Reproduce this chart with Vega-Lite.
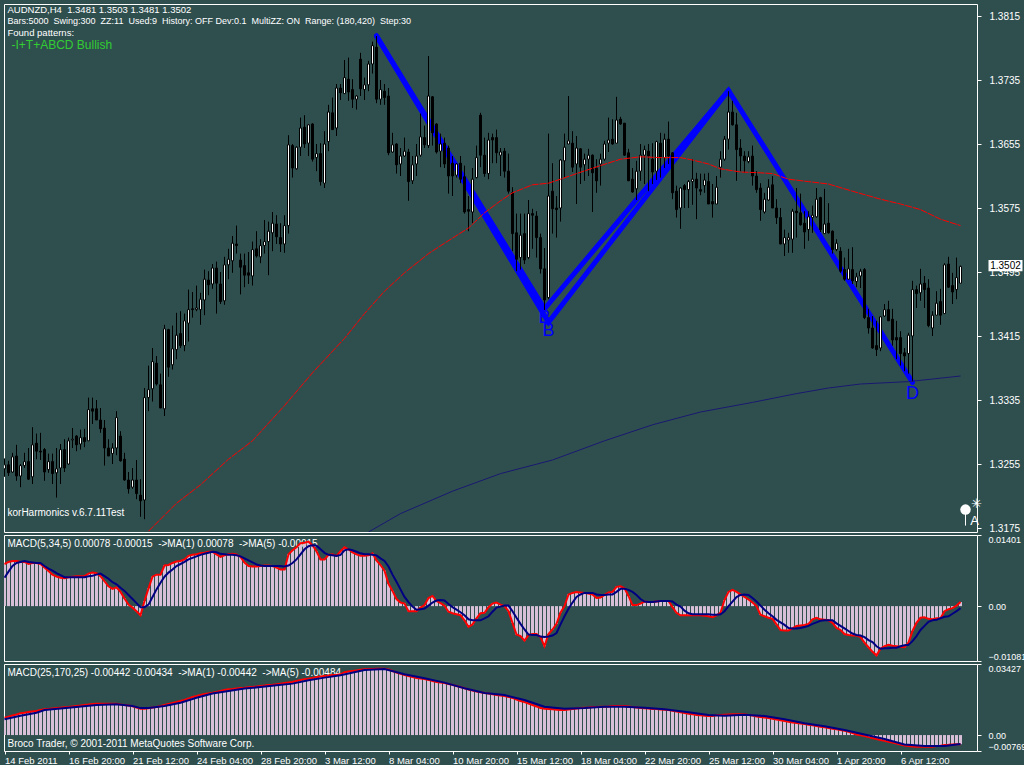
{"$schema":"https://vega.github.io/schema/vega-lite/v6.json","background":"#2F4F4F","padding":{"left":3,"top":3,"right":0,"bottom":0},"spacing":3,"bounds":"flush","config":{"view":{"stroke":"#FFFFFF","strokeWidth":1},"font":"Liberation Sans","axis":{"grid":false,"domain":false,"title":null,"tickColor":"#FFFFFF","labelColor":"#FFFFFF","labelFontSize":10,"labelFont":"Liberation Sans","labelOverlap":false}},
"datasets":{
"candles":[
{"i":0,"o":1.3249,"h":1.3262,"l":1.3239,"c":1.3254},{"i":1,"o":1.3254,"h":1.3259,"l":1.3240,"c":1.3244},{"i":2,"o":1.3245,"h":1.3269,"l":1.3244,"c":1.3264},{"i":3,"o":1.3265,"h":1.3279,"l":1.3234,"c":1.3240},{"i":4,"o":1.3240,"h":1.3255,"l":1.3226,"c":1.3253},{"i":5,"o":1.3253,"h":1.3269,"l":1.3250,"c":1.3258},{"i":6,"o":1.3258,"h":1.3275,"l":1.3235,"c":1.3236},{"i":7,"o":1.3239,"h":1.3301,"l":1.3230,"c":1.3279},{"i":8,"o":1.3281,"h":1.3293,"l":1.3261,"c":1.3271},{"i":9,"o":1.3271,"h":1.3294,"l":1.3260,"c":1.3270},
{"i":10,"o":1.3273,"h":1.3275,"l":1.3234,"c":1.3245},{"i":11,"o":1.3248,"h":1.3268,"l":1.3244,"c":1.3258},{"i":12,"o":1.3258,"h":1.3268,"l":1.3230,"c":1.3243},{"i":13,"o":1.3244,"h":1.3275,"l":1.3213,"c":1.3249},{"i":14,"o":1.3250,"h":1.3280,"l":1.3230,"c":1.3273},{"i":15,"o":1.3273,"h":1.3286,"l":1.3245,"c":1.3250},{"i":16,"o":1.3255,"h":1.3288,"l":1.3254,"c":1.3284},{"i":17,"o":1.3285,"h":1.3300,"l":1.3275,"c":1.3286},{"i":18,"o":1.3290,"h":1.3291,"l":1.3271,"c":1.3279},{"i":19,"o":1.3280,"h":1.3298,"l":1.3273,"c":1.3288},
{"i":20,"o":1.3288,"h":1.3299,"l":1.3276,"c":1.3283},{"i":21,"o":1.3284,"h":1.3338,"l":1.3284,"c":1.3323},{"i":22,"o":1.3324,"h":1.3338,"l":1.3305,"c":1.3321},{"i":23,"o":1.3324,"h":1.3335,"l":1.3310,"c":1.3310},{"i":24,"o":1.3310,"h":1.3325,"l":1.3294,"c":1.3299},{"i":25,"o":1.3300,"h":1.3310,"l":1.3253,"c":1.3275},{"i":26,"o":1.3275,"h":1.3286,"l":1.3265,"c":1.3265},{"i":27,"o":1.3268,"h":1.3281,"l":1.3255,"c":1.3275},{"i":28,"o":1.3275,"h":1.3321,"l":1.3266,"c":1.3313},{"i":29,"o":1.3290,"h":1.3296,"l":1.3258,"c":1.3259},
{"i":30,"o":1.3261,"h":1.3269,"l":1.3234,"c":1.3235},{"i":31,"o":1.3235,"h":1.3245,"l":1.3218,"c":1.3224},{"i":32,"o":1.3226,"h":1.3250,"l":1.3224,"c":1.3235},{"i":33,"o":1.3235,"h":1.3260,"l":1.3211,"c":1.3218},{"i":34,"o":1.3216,"h":1.3236,"l":1.3189,"c":1.3209},{"i":35,"o":1.3210,"h":1.3350,"l":1.3186,"c":1.3338},{"i":36,"o":1.3338,"h":1.3378,"l":1.3321,"c":1.3348},{"i":37,"o":1.3349,"h":1.3400,"l":1.3333,"c":1.3383},{"i":38,"o":1.3381,"h":1.3390,"l":1.3353,"c":1.3355},{"i":39,"o":1.3354,"h":1.3368,"l":1.3325,"c":1.3325},
{"i":40,"o":1.3324,"h":1.3429,"l":1.3315,"c":1.3424},{"i":41,"o":1.3423,"h":1.3424,"l":1.3364,"c":1.3376},{"i":42,"o":1.3379,"h":1.3428,"l":1.3373,"c":1.3399},{"i":43,"o":1.3398,"h":1.3444,"l":1.3386,"c":1.3416},{"i":44,"o":1.3418,"h":1.3446,"l":1.3400,"c":1.3403},{"i":45,"o":1.3403,"h":1.3443,"l":1.3396,"c":1.3434},{"i":46,"o":1.3431,"h":1.3473,"l":1.3408,"c":1.3448},{"i":47,"o":1.3449,"h":1.3470,"l":1.3438,"c":1.3448},{"i":48,"o":1.3448,"h":1.3478,"l":1.3446,"c":1.3450},{"i":49,"o":1.3448,"h":1.3469,"l":1.3429,"c":1.3461},
{"i":50,"o":1.3460,"h":1.3498,"l":1.3441,"c":1.3486},{"i":51,"o":1.3485,"h":1.3496,"l":1.3466,"c":1.3479},{"i":52,"o":1.3480,"h":1.3505,"l":1.3474,"c":1.3500},{"i":53,"o":1.3500,"h":1.3508,"l":1.3443,"c":1.3481},{"i":54,"o":1.3480,"h":1.3495,"l":1.3455,"c":1.3458},{"i":55,"o":1.3459,"h":1.3514,"l":1.3454,"c":1.3504},{"i":56,"o":1.3504,"h":1.3524,"l":1.3486,"c":1.3511},{"i":57,"o":1.3509,"h":1.3540,"l":1.3494,"c":1.3531},{"i":58,"o":1.3530,"h":1.3553,"l":1.3518,"c":1.3528},{"i":59,"o":1.3510,"h":1.3518,"l":1.3467,"c":1.3501},
{"i":60,"o":1.3503,"h":1.3518,"l":1.3476,"c":1.3491},{"i":61,"o":1.3494,"h":1.3520,"l":1.3480,"c":1.3491},{"i":62,"o":1.3490,"h":1.3533,"l":1.3478,"c":1.3523},{"i":63,"o":1.3524,"h":1.3546,"l":1.3513,"c":1.3515},{"i":64,"o":1.3514,"h":1.3536,"l":1.3506,"c":1.3528},{"i":65,"o":1.3528,"h":1.3560,"l":1.3518,"c":1.3533},{"i":66,"o":1.3533,"h":1.3558,"l":1.3491,"c":1.3546},{"i":67,"o":1.3544,"h":1.3570,"l":1.3521,"c":1.3556},{"i":68,"o":1.3555,"h":1.3566,"l":1.3530,"c":1.3539},{"i":69,"o":1.3538,"h":1.3556,"l":1.3520,"c":1.3530},
{"i":70,"o":1.3530,"h":1.3566,"l":1.3519,"c":1.3553},{"i":71,"o":1.3553,"h":1.3666,"l":1.3543,"c":1.3654},{"i":72,"o":1.3653,"h":1.3655,"l":1.3613,"c":1.3625},{"i":73,"o":1.3624,"h":1.3652,"l":1.3623,"c":1.3651},{"i":74,"o":1.3651,"h":1.3688,"l":1.3640,"c":1.3675},{"i":75,"o":1.3676,"h":1.3691,"l":1.3650,"c":1.3655},{"i":76,"o":1.3656,"h":1.3680,"l":1.3640,"c":1.3679},{"i":77,"o":1.3680,"h":1.3681,"l":1.3633,"c":1.3636},{"i":78,"o":1.3638,"h":1.3655,"l":1.3621,"c":1.3643},{"i":79,"o":1.3643,"h":1.3656,"l":1.3603,"c":1.3608},
{"i":80,"o":1.3606,"h":1.3671,"l":1.3600,"c":1.3655},{"i":81,"o":1.3658,"h":1.3704,"l":1.3646,"c":1.3695},{"i":82,"o":1.3694,"h":1.3713,"l":1.3673,"c":1.3673},{"i":83,"o":1.3675,"h":1.3730,"l":1.3665,"c":1.3725},{"i":84,"o":1.3725,"h":1.3730,"l":1.3710,"c":1.3719},{"i":85,"o":1.3718,"h":1.3760,"l":1.3718,"c":1.3738},{"i":86,"o":1.3736,"h":1.3763,"l":1.3709,"c":1.3720},{"i":87,"o":1.3723,"h":1.3736,"l":1.3700,"c":1.3711},{"i":88,"o":1.3711,"h":1.3716,"l":1.3698,"c":1.3715},{"i":89,"o":1.3761,"h":1.3769,"l":1.3715,"c":1.3724},
{"i":90,"o":1.3723,"h":1.3738,"l":1.3710,"c":1.3729},{"i":91,"o":1.3729,"h":1.3759,"l":1.3721,"c":1.3755},{"i":92,"o":1.3755,"h":1.3783,"l":1.3743,"c":1.3778},{"i":93,"o":1.3776,"h":1.3790,"l":1.3706,"c":1.3711},{"i":94,"o":1.3711,"h":1.3735,"l":1.3704,"c":1.3723},{"i":95,"o":1.3721,"h":1.3730,"l":1.3704,"c":1.3713},{"i":96,"o":1.3715,"h":1.3725,"l":1.3641,"c":1.3644},{"i":97,"o":1.3645,"h":1.3669,"l":1.3644,"c":1.3654},{"i":98,"o":1.3655,"h":1.3656,"l":1.3618,"c":1.3629},{"i":99,"o":1.3630,"h":1.3650,"l":1.3615,"c":1.3640},
{"i":100,"o":1.3640,"h":1.3663,"l":1.3639,"c":1.3646},{"i":101,"o":1.3645,"h":1.3649,"l":1.3584,"c":1.3608},{"i":102,"o":1.3609,"h":1.3640,"l":1.3605,"c":1.3629},{"i":103,"o":1.3630,"h":1.3655,"l":1.3615,"c":1.3640},{"i":104,"o":1.3641,"h":1.3693,"l":1.3639,"c":1.3664},{"i":105,"o":1.3663,"h":1.3678,"l":1.3650,"c":1.3654},{"i":106,"o":1.3653,"h":1.3765,"l":1.3650,"c":1.3715},{"i":107,"o":1.3714,"h":1.3715,"l":1.3653,"c":1.3669},{"i":108,"o":1.3680,"h":1.3681,"l":1.3643,"c":1.3645},{"i":109,"o":1.3646,"h":1.3668,"l":1.3626,"c":1.3655},
{"i":110,"o":1.3656,"h":1.3663,"l":1.3625,"c":1.3630},{"i":111,"o":1.3650,"h":1.3653,"l":1.3593,"c":1.3615},{"i":112,"o":1.3631,"h":1.3640,"l":1.3590,"c":1.3615},{"i":113,"o":1.3616,"h":1.3631,"l":1.3613,"c":1.3630},{"i":114,"o":1.3631,"h":1.3640,"l":1.3606,"c":1.3611},{"i":115,"o":1.3614,"h":1.3628,"l":1.3568,"c":1.3570},{"i":116,"o":1.3573,"h":1.3590,"l":1.3546,"c":1.3571},{"i":117,"o":1.3570,"h":1.3625,"l":1.3556,"c":1.3611},{"i":118,"o":1.3613,"h":1.3653,"l":1.3612,"c":1.3638},{"i":119,"o":1.3691,"h":1.3694,"l":1.3626,"c":1.3641},
{"i":120,"o":1.3641,"h":1.3663,"l":1.3614,"c":1.3618},{"i":121,"o":1.3618,"h":1.3669,"l":1.3611,"c":1.3660},{"i":122,"o":1.3663,"h":1.3668,"l":1.3631,"c":1.3660},{"i":123,"o":1.3663,"h":1.3673,"l":1.3631,"c":1.3644},{"i":124,"o":1.3641,"h":1.3650,"l":1.3615,"c":1.3645},{"i":125,"o":1.3646,"h":1.3650,"l":1.3613,"c":1.3621},{"i":126,"o":1.3621,"h":1.3643,"l":1.3593,"c":1.3596},{"i":127,"o":1.3594,"h":1.3601,"l":1.3521,"c":1.3543},{"i":128,"o":1.3544,"h":1.3568,"l":1.3496,"c":1.3511},{"i":129,"o":1.3513,"h":1.3568,"l":1.3498,"c":1.3541},
{"i":130,"o":1.3543,"h":1.3568,"l":1.3505,"c":1.3510},{"i":131,"o":1.3513,"h":1.3585,"l":1.3511,"c":1.3568},{"i":132,"o":1.3568,"h":1.3574,"l":1.3524,"c":1.3566},{"i":133,"o":1.3565,"h":1.3571,"l":1.3513,"c":1.3538},{"i":134,"o":1.3538,"h":1.3543,"l":1.3493,"c":1.3499},{"i":135,"o":1.3499,"h":1.3525,"l":1.3446,"c":1.3460},{"i":136,"o":1.3463,"h":1.3668,"l":1.3461,"c":1.3590},{"i":137,"o":1.3596,"h":1.3631,"l":1.3543,"c":1.3574},{"i":138,"o":1.3575,"h":1.3590,"l":1.3538,"c":1.3573},{"i":139,"o":1.3575,"h":1.3636,"l":1.3558,"c":1.3635},
{"i":140,"o":1.3634,"h":1.3668,"l":1.3613,"c":1.3651},{"i":141,"o":1.3655,"h":1.3715,"l":1.3655,"c":1.3659},{"i":142,"o":1.3656,"h":1.3671,"l":1.3620,"c":1.3626},{"i":143,"o":1.3630,"h":1.3665,"l":1.3580,"c":1.3650},{"i":144,"o":1.3649,"h":1.3650,"l":1.3605,"c":1.3626},{"i":145,"o":1.3629,"h":1.3643,"l":1.3609,"c":1.3636},{"i":146,"o":1.3636,"h":1.3649,"l":1.3615,"c":1.3641},{"i":147,"o":1.3641,"h":1.3642,"l":1.3570,"c":1.3619},{"i":148,"o":1.3625,"h":1.3636,"l":1.3594,"c":1.3609},{"i":149,"o":1.3630,"h":1.3643,"l":1.3603,"c":1.3636},
{"i":150,"o":1.3636,"h":1.3659,"l":1.3634,"c":1.3655},{"i":151,"o":1.3656,"h":1.3688,"l":1.3645,"c":1.3660},{"i":152,"o":1.3661,"h":1.3686,"l":1.3654,"c":1.3655},{"i":153,"o":1.3656,"h":1.3714,"l":1.3656,"c":1.3685},{"i":154,"o":1.3686,"h":1.3689,"l":1.3679,"c":1.3680},{"i":155,"o":1.3681,"h":1.3681,"l":1.3640,"c":1.3641},{"i":156,"o":1.3644,"h":1.3649,"l":1.3609,"c":1.3609},{"i":157,"o":1.3611,"h":1.3625,"l":1.3594,"c":1.3595},{"i":158,"o":1.3599,"h":1.3634,"l":1.3585,"c":1.3621},{"i":159,"o":1.3621,"h":1.3655,"l":1.3609,"c":1.3641},
{"i":160,"o":1.3641,"h":1.3653,"l":1.3605,"c":1.3648},{"i":161,"o":1.3646,"h":1.3655,"l":1.3596,"c":1.3640},{"i":162,"o":1.3636,"h":1.3656,"l":1.3605,"c":1.3620},{"i":163,"o":1.3621,"h":1.3659,"l":1.3610,"c":1.3658},{"i":164,"o":1.3656,"h":1.3669,"l":1.3613,"c":1.3638},{"i":165,"o":1.3638,"h":1.3668,"l":1.3625,"c":1.3661},{"i":166,"o":1.3661,"h":1.3683,"l":1.3630,"c":1.3640},{"i":167,"o":1.3644,"h":1.3645,"l":1.3586,"c":1.3594},{"i":168,"o":1.3596,"h":1.3603,"l":1.3563,"c":1.3573},{"i":169,"o":1.3575,"h":1.3601,"l":1.3549,"c":1.3600},
{"i":170,"o":1.3603,"h":1.3605,"l":1.3575,"c":1.3598},{"i":171,"o":1.3598,"h":1.3610,"l":1.3575,"c":1.3608},{"i":172,"o":1.3608,"h":1.3636,"l":1.3579,"c":1.3611},{"i":173,"o":1.3611,"h":1.3619,"l":1.3561,"c":1.3600},{"i":174,"o":1.3598,"h":1.3618,"l":1.3591,"c":1.3596},{"i":175,"o":1.3603,"h":1.3618,"l":1.3594,"c":1.3610},{"i":176,"o":1.3608,"h":1.3619,"l":1.3580,"c":1.3580},{"i":177,"o":1.3583,"h":1.3605,"l":1.3563,"c":1.3580},{"i":178,"o":1.3580,"h":1.3615,"l":1.3580,"c":1.3601},{"i":179,"o":1.3626,"h":1.3646,"l":1.3613,"c":1.3636},
{"i":180,"o":1.3636,"h":1.3665,"l":1.3634,"c":1.3661},{"i":181,"o":1.3661,"h":1.3721,"l":1.3648,"c":1.3695},{"i":182,"o":1.3695,"h":1.3709,"l":1.3678,"c":1.3679},{"i":183,"o":1.3679,"h":1.3694,"l":1.3609,"c":1.3648},{"i":184,"o":1.3650,"h":1.3661,"l":1.3621,"c":1.3640},{"i":185,"o":1.3640,"h":1.3646,"l":1.3619,"c":1.3634},{"i":186,"o":1.3633,"h":1.3646,"l":1.3631,"c":1.3639},{"i":187,"o":1.3640,"h":1.3653,"l":1.3603,"c":1.3615},{"i":188,"o":1.3615,"h":1.3621,"l":1.3594,"c":1.3598},{"i":189,"o":1.3600,"h":1.3606,"l":1.3559,"c":1.3573},
{"i":190,"o":1.3570,"h":1.3594,"l":1.3568,"c":1.3586},{"i":191,"o":1.3585,"h":1.3611,"l":1.3584,"c":1.3601},{"i":192,"o":1.3604,"h":1.3615,"l":1.3575,"c":1.3575},{"i":193,"o":1.3575,"h":1.3586,"l":1.3555,"c":1.3563},{"i":194,"o":1.3563,"h":1.3575,"l":1.3530,"c":1.3530},{"i":195,"o":1.3530,"h":1.3548,"l":1.3515,"c":1.3538},{"i":196,"o":1.3535,"h":1.3544,"l":1.3519,"c":1.3538},{"i":197,"o":1.3536,"h":1.3574,"l":1.3519,"c":1.3571},{"i":198,"o":1.3571,"h":1.3600,"l":1.3538,"c":1.3569},{"i":199,"o":1.3569,"h":1.3593,"l":1.3553,"c":1.3554},
{"i":200,"o":1.3556,"h":1.3571,"l":1.3524,"c":1.3545},{"i":201,"o":1.3548,"h":1.3571,"l":1.3534,"c":1.3564},{"i":202,"o":1.3563,"h":1.3578,"l":1.3544,"c":1.3566},{"i":203,"o":1.3564,"h":1.3600,"l":1.3563,"c":1.3586},{"i":204,"o":1.3588,"h":1.3589,"l":1.3545,"c":1.3548},{"i":205,"o":1.3543,"h":1.3599,"l":1.3543,"c":1.3555},{"i":206,"o":1.3556,"h":1.3581,"l":1.3543,"c":1.3544},{"i":207,"o":1.3546,"h":1.3547,"l":1.3518,"c":1.3523},{"i":208,"o":1.3523,"h":1.3536,"l":1.3521,"c":1.3531},{"i":209,"o":1.3521,"h":1.3526,"l":1.3494,"c":1.3496},
{"i":210,"o":1.3498,"h":1.3513,"l":1.3484,"c":1.3486},{"i":211,"o":1.3486,"h":1.3524,"l":1.3485,"c":1.3499},{"i":212,"o":1.3498,"h":1.3526,"l":1.3480,"c":1.3484},{"i":213,"o":1.3483,"h":1.3494,"l":1.3476,"c":1.3489},{"i":214,"o":1.3490,"h":1.3499,"l":1.3475,"c":1.3496},{"i":215,"o":1.3498,"h":1.3500,"l":1.3436,"c":1.3438},{"i":216,"o":1.3438,"h":1.3449,"l":1.3418,"c":1.3425},{"i":217,"o":1.3425,"h":1.3440,"l":1.3399,"c":1.3400},{"i":218,"o":1.3403,"h":1.3434,"l":1.3390,"c":1.3398},{"i":219,"o":1.3400,"h":1.3440,"l":1.3396,"c":1.3439},
{"i":220,"o":1.3440,"h":1.3455,"l":1.3439,"c":1.3448},{"i":221,"o":1.3448,"h":1.3459,"l":1.3434,"c":1.3434},{"i":222,"o":1.3436,"h":1.3449,"l":1.3403,"c":1.3410},{"i":223,"o":1.3413,"h":1.3434,"l":1.3386,"c":1.3410},{"i":224,"o":1.3413,"h":1.3421,"l":1.3378,"c":1.3393},{"i":225,"o":1.3394,"h":1.3400,"l":1.3371,"c":1.3390},{"i":226,"o":1.3393,"h":1.3419,"l":1.3368,"c":1.3416},{"i":227,"o":1.3415,"h":1.3484,"l":1.3358,"c":1.3473},{"i":228,"o":1.3473,"h":1.3478,"l":1.3450,"c":1.3468},{"i":229,"o":1.3469,"h":1.3499,"l":1.3459,"c":1.3480},
{"i":230,"o":1.3481,"h":1.3490,"l":1.3450,"c":1.3473},{"i":231,"o":1.3475,"h":1.3486,"l":1.3426,"c":1.3428},{"i":232,"o":1.3425,"h":1.3446,"l":1.3415,"c":1.3441},{"i":233,"o":1.3441,"h":1.3471,"l":1.3441,"c":1.3456},{"i":234,"o":1.3458,"h":1.3474,"l":1.3429,"c":1.3441},{"i":235,"o":1.3443,"h":1.3506,"l":1.3443,"c":1.3504},{"i":236,"o":1.3505,"h":1.3514,"l":1.3475,"c":1.3476},{"i":237,"o":1.3478,"h":1.3494,"l":1.3455,"c":1.3470},{"i":238,"o":1.3473,"h":1.3513,"l":1.3461,"c":1.3488},{"i":239,"o":1.3481,"h":1.3503,"l":1.3481,"c":1.3502}],
"maRed":[{"i":36,"p":1.3171},{"i":43,"p":1.3206},{"i":49,"p":1.3229},{"i":56,"p":1.3261},{"i":62,"p":1.3284},{"i":70,"p":1.3328},{"i":77,"p":1.3369},{"i":85,"p":1.3412},{"i":90,"p":1.3443},{"i":95,"p":1.3471},{"i":100,"p":1.3494},{"i":106,"p":1.3518},{"i":110,"p":1.3531},{"i":116,"p":1.3550},{"i":120,"p":1.3569},{"i":124,"p":1.3584},{"i":127,"p":1.3594},{"i":132,"p":1.3604},{"i":136,"p":1.3606},{"i":139,"p":1.3611},{"i":143,"p":1.3618},{"i":149,"p":1.3628},{"i":154,"p":1.3636},{"i":159,"p":1.3639},{"i":164,"p":1.3638},{"i":169,"p":1.3638},{"i":172,"p":1.3635},{"i":176,"p":1.3630},{"i":179,"p":1.3624},{"i":184,"p":1.3620},{"i":189,"p":1.3619},{"i":192,"p":1.3618},{"i":196,"p":1.3611},{"i":201,"p":1.3608},{"i":206,"p":1.3605},{"i":212,"p":1.3596},{"i":219,"p":1.3586},{"i":224,"p":1.3580},{"i":229,"p":1.3573},{"i":234,"p":1.3561},{"i":239,"p":1.3553}],
"maBlue":[{"i":91,"p":1.3170},{"i":99,"p":1.3193},{"i":112,"p":1.3221},{"i":124,"p":1.3243},{"i":137,"p":1.3260},{"i":150,"p":1.3284},{"i":162,"p":1.3304},{"i":174,"p":1.3320},{"i":187,"p":1.3332},{"i":198,"p":1.3343},{"i":206,"p":1.3350},{"i":214,"p":1.3355},{"i":226,"p":1.3358},{"i":239,"p":1.3365}],
"pattern":[{"i":93,"p":1.3790,"leg":"a"},{"i":135,"p":1.3449,"leg":"a"},{"i":181,"p":1.3722,"leg":"a"},{"i":227,"p":1.3357,"leg":"a"},{"i":93,"p":1.3790,"leg":"b"},{"i":136,"p":1.3432,"leg":"b"},{"i":181,"p":1.3722,"leg":"b"}],
"points":[{"i":135,"p":1.3438,"t":"B"},{"i":136,"p":1.3421,"t":"B"},{"i":227,"p":1.3342,"t":"D"}],
"mainText":[{"i":0.75,"p":1.3822,"t":"AUDNZD,H4\u00a0 1.3481 1.3503 1.3481 1.3502","s":9.5},{"i":0.75,"p":1.3809,"t":"Bars:5000\u00a0 Swing:300\u00a0 ZZ:11\u00a0 Used:9\u00a0 History: OFF Dev:0.1\u00a0 MultiZZ: ON\u00a0 Range: (180,420)\u00a0 Step:30","s":9},{"i":0.75,"p":1.3794,"t":"Found patterns:","s":9.5},{"i":0.75,"p":1.3194,"t":"korHarmonics v.6.7.11Test","s":10}],
"macd1":[{"i":0,"m":0.0083,"s":0.0056},{"i":1,"m":0.0087,"s":0.0068},{"i":2,"m":0.0089,"s":0.0079},{"i":3,"m":0.0089,"s":0.0085},{"i":4,"m":0.0087,"s":0.0087},{"i":5,"m":0.0087,"s":0.0089},{"i":6,"m":0.0083,"s":0.0087},{"i":7,"m":0.0085,"s":0.0086},{"i":8,"m":0.0085,"s":0.0085},{"i":9,"m":0.0083,"s":0.0085},{"i":10,"m":0.0076,"s":0.0079},{"i":11,"m":0.0069,"s":0.0074},{"i":12,"m":0.0062,"s":0.0070},{"i":13,"m":0.0058,"s":0.0065},{"i":14,"m":0.0056,"s":0.0061},{"i":15,"m":0.0055,"s":0.0057},{"i":16,"m":0.0057,"s":0.0057},{"i":17,"m":0.0058,"s":0.0057},{"i":18,"m":0.0059,"s":0.0057},{"i":19,"m":0.0059,"s":0.0057},{"i":20,"m":0.0059,"s":0.0057},{"i":21,"m":0.0064,"s":0.0059},{"i":22,"m":0.0066,"s":0.0060},{"i":23,"m":0.0065,"s":0.0062},{"i":24,"m":0.0059,"s":0.0064},{"i":25,"m":0.0049,"s":0.0059},{"i":26,"m":0.0039,"s":0.0054},{"i":27,"m":0.0034,"s":0.0047},{"i":28,"m":0.0037,"s":0.0043},{"i":29,"m":0.0028,"s":0.0036},{"i":30,"m":0.0015,"s":0.0030},{"i":31,"m":0.0003,"s":0.0022},{"i":32,"m":-0.0003,"s":0.0014},{"i":33,"m":-0.0010,"s":0.0006},{"i":34,"m":-0.0018,"s":-0.0002},{"i":35,"m":0.0010,"s":-0.0002},{"i":36,"m":0.0035,"s":0.0003},{"i":37,"m":0.0058,"s":0.0018},{"i":38,"m":0.0062,"s":0.0033},{"i":39,"m":0.0062,"s":0.0046},{"i":40,"m":0.0080,"s":0.0058},{"i":41,"m":0.0081,"s":0.0066},{"i":42,"m":0.0085,"s":0.0072},{"i":43,"m":0.0088,"s":0.0079},{"i":44,"m":0.0089,"s":0.0083},{"i":45,"m":0.0092,"s":0.0087},{"i":46,"m":0.0099,"s":0.0092},{"i":47,"m":0.0101,"s":0.0095},{"i":48,"m":0.0102,"s":0.0098},{"i":49,"m":0.0104,"s":0.0101},{"i":50,"m":0.0105,"s":0.0103},{"i":51,"m":0.0107,"s":0.0105},{"i":52,"m":0.0107,"s":0.0107},{"i":53,"m":0.0102,"s":0.0106},{"i":54,"m":0.0097,"s":0.0103},{"i":55,"m":0.0100,"s":0.0102},{"i":56,"m":0.0102,"s":0.0101},{"i":57,"m":0.0103,"s":0.0101},{"i":58,"m":0.0102,"s":0.0100},{"i":59,"m":0.0097,"s":0.0098},{"i":60,"m":0.0086,"s":0.0094},{"i":61,"m":0.0079,"s":0.0090},{"i":62,"m":0.0078,"s":0.0086},{"i":63,"m":0.0078,"s":0.0082},{"i":64,"m":0.0079,"s":0.0080},{"i":65,"m":0.0080,"s":0.0079},{"i":66,"m":0.0080,"s":0.0079},{"i":67,"m":0.0079,"s":0.0079},{"i":68,"m":0.0076,"s":0.0079},{"i":69,"m":0.0072,"s":0.0079},{"i":70,"m":0.0072,"s":0.0078},{"i":71,"m":0.0102,"s":0.0080},{"i":72,"m":0.0110,"s":0.0085},{"i":73,"m":0.0116,"s":0.0092},{"i":74,"m":0.0124,"s":0.0102},{"i":75,"m":0.0125,"s":0.0112},{"i":76,"m":0.0127,"s":0.0118},{"i":77,"m":0.0120,"s":0.0120},{"i":78,"m":0.0108,"s":0.0119},{"i":79,"m":0.0092,"s":0.0112},{"i":80,"m":0.0092,"s":0.0105},{"i":81,"m":0.0101,"s":0.0101},{"i":82,"m":0.0102,"s":0.0100},{"i":83,"m":0.0099,"s":0.0099},{"i":84,"m":0.0108,"s":0.0101},{"i":85,"m":0.0116,"s":0.0110},{"i":86,"m":0.0112,"s":0.0112},{"i":87,"m":0.0106,"s":0.0110},{"i":88,"m":0.0102,"s":0.0107},{"i":89,"m":0.0099,"s":0.0104},{"i":90,"m":0.0099,"s":0.0102},{"i":91,"m":0.0100,"s":0.0102},{"i":92,"m":0.0104,"s":0.0101},{"i":93,"m":0.0090,"s":0.0100},{"i":94,"m":0.0081,"s":0.0094},{"i":95,"m":0.0070,"s":0.0089},{"i":96,"m":0.0044,"s":0.0078},{"i":97,"m":0.0030,"s":0.0062},{"i":98,"m":0.0014,"s":0.0048},{"i":99,"m":0.0007,"s":0.0033},{"i":100,"m":0.0005,"s":0.0018},{"i":101,"m":-0.0010,"s":0.0008},{"i":102,"m":-0.0010,"s":-0.0001},{"i":103,"m":-0.0010,"s":-0.0007},{"i":104,"m":-0.0003,"s":-0.0006},{"i":105,"m":0.0002,"s":-0.0005},{"i":106,"m":0.0016,"s":0.0001},{"i":107,"m":0.0020,"s":0.0007},{"i":108,"m":0.0010,"s":0.0011},{"i":109,"m":0.0006,"s":0.0012},{"i":110,"m":0.0001,"s":0.0011},{"i":111,"m":-0.0011,"s":0.0004},{"i":112,"m":-0.0014,"s":-0.0002},{"i":113,"m":-0.0016,"s":-0.0007},{"i":114,"m":-0.0018,"s":-0.0012},{"i":115,"m":-0.0028,"s":-0.0018},{"i":116,"m":-0.0041,"s":-0.0026},{"i":117,"m":-0.0036,"s":-0.0028},{"i":118,"m":-0.0024,"s":-0.0028},{"i":119,"m":-0.0014,"s":-0.0028},{"i":120,"m":-0.0013,"s":-0.0024},{"i":121,"m":-0.0002,"s":-0.0020},{"i":122,"m":0.0005,"s":-0.0011},{"i":123,"m":0.0007,"s":-0.0003},{"i":124,"m":0.0003,"s":-0.0001},{"i":125,"m":0.0000,"s":0.0001},{"i":126,"m":-0.0010,"s":0.0001},{"i":127,"m":-0.0033,"s":-0.0010},{"i":128,"m":-0.0056,"s":-0.0023},{"i":129,"m":-0.0059,"s":-0.0035},{"i":130,"m":-0.0068,"s":-0.0046},{"i":131,"m":-0.0057,"s":-0.0056},{"i":132,"m":-0.0055,"s":-0.0057},{"i":133,"m":-0.0055,"s":-0.0057},{"i":134,"m":-0.0061,"s":-0.0060},{"i":135,"m":-0.0079,"s":-0.0061},{"i":136,"m":-0.0055,"s":-0.0060},{"i":137,"m":-0.0046,"s":-0.0058},{"i":138,"m":-0.0035,"s":-0.0053},{"i":139,"m":-0.0013,"s":-0.0036},{"i":140,"m":0.0000,"s":-0.0020},{"i":141,"m":0.0023,"s":-0.0005},{"i":142,"m":0.0026,"s":0.0007},{"i":143,"m":0.0028,"s":0.0018},{"i":144,"m":0.0027,"s":0.0023},{"i":145,"m":0.0026,"s":0.0026},{"i":146,"m":0.0025,"s":0.0026},{"i":147,"m":0.0023,"s":0.0026},{"i":148,"m":0.0016,"s":0.0023},{"i":149,"m":0.0017,"s":0.0022},{"i":150,"m":0.0022,"s":0.0022},{"i":151,"m":0.0027,"s":0.0023},{"i":152,"m":0.0028,"s":0.0023},{"i":153,"m":0.0038,"s":0.0028},{"i":154,"m":0.0039,"s":0.0034},{"i":155,"m":0.0035,"s":0.0034},{"i":156,"m":0.0020,"s":0.0032},{"i":157,"m":0.0002,"s":0.0028},{"i":158,"m":0.0002,"s":0.0022},{"i":159,"m":0.0005,"s":0.0014},{"i":160,"m":0.0009,"s":0.0009},{"i":161,"m":0.0008,"s":0.0008},{"i":162,"m":0.0008,"s":0.0008},{"i":163,"m":0.0009,"s":0.0009},{"i":164,"m":0.0010,"s":0.0010},{"i":165,"m":0.0010,"s":0.0010},{"i":166,"m":0.0010,"s":0.0010},{"i":167,"m":-0.0002,"s":0.0009},{"i":168,"m":-0.0013,"s":0.0003},{"i":169,"m":-0.0018,"s":-0.0001},{"i":170,"m":-0.0018,"s":-0.0009},{"i":171,"m":-0.0018,"s":-0.0014},{"i":172,"m":-0.0018,"s":-0.0016},{"i":173,"m":-0.0018,"s":-0.0016},{"i":174,"m":-0.0018,"s":-0.0016},{"i":175,"m":-0.0019,"s":-0.0016},{"i":176,"m":-0.0020,"s":-0.0016},{"i":177,"m":-0.0022,"s":-0.0017},{"i":178,"m":-0.0018,"s":-0.0017},{"i":179,"m":-0.0013,"s":-0.0016},{"i":180,"m":0.0012,"s":-0.0010},{"i":181,"m":0.0028,"s":0.0000},{"i":182,"m":0.0032,"s":0.0009},{"i":183,"m":0.0028,"s":0.0018},{"i":184,"m":0.0023,"s":0.0022},{"i":185,"m":0.0018,"s":0.0023},{"i":186,"m":0.0013,"s":0.0022},{"i":187,"m":0.0007,"s":0.0016},{"i":188,"m":0.0000,"s":0.0009},{"i":189,"m":-0.0017,"s":0.0001},{"i":190,"m":-0.0020,"s":-0.0007},{"i":191,"m":-0.0023,"s":-0.0014},{"i":192,"m":-0.0025,"s":-0.0020},{"i":193,"m":-0.0036,"s":-0.0027},{"i":194,"m":-0.0047,"s":-0.0032},{"i":195,"m":-0.0048,"s":-0.0037},{"i":196,"m":-0.0048,"s":-0.0043},{"i":197,"m":-0.0044,"s":-0.0044},{"i":198,"m":-0.0039,"s":-0.0044},{"i":199,"m":-0.0038,"s":-0.0043},{"i":200,"m":-0.0037,"s":-0.0041},{"i":201,"m":-0.0035,"s":-0.0039},{"i":202,"m":-0.0026,"s":-0.0035},{"i":203,"m":-0.0023,"s":-0.0032},{"i":204,"m":-0.0026,"s":-0.0029},{"i":205,"m":-0.0027,"s":-0.0028},{"i":206,"m":-0.0028,"s":-0.0028},{"i":207,"m":-0.0033,"s":-0.0028},{"i":208,"m":-0.0043,"s":-0.0034},{"i":209,"m":-0.0047,"s":-0.0039},{"i":210,"m":-0.0055,"s":-0.0044},{"i":211,"m":-0.0057,"s":-0.0049},{"i":212,"m":-0.0058,"s":-0.0054},{"i":213,"m":-0.0058,"s":-0.0057},{"i":214,"m":-0.0061,"s":-0.0058},{"i":215,"m":-0.0072,"s":-0.0061},{"i":216,"m":-0.0081,"s":-0.0067},{"i":217,"m":-0.0090,"s":-0.0071},{"i":218,"m":-0.0097,"s":-0.0079},{"i":219,"m":-0.0084,"s":-0.0084},{"i":220,"m":-0.0079,"s":-0.0083},{"i":221,"m":-0.0076,"s":-0.0083},{"i":222,"m":-0.0078,"s":-0.0082},{"i":223,"m":-0.0079,"s":-0.0082},{"i":224,"m":-0.0080,"s":-0.0079},{"i":225,"m":-0.0081,"s":-0.0077},{"i":226,"m":-0.0072,"s":-0.0076},{"i":227,"m":-0.0049,"s":-0.0069},{"i":228,"m":-0.0033,"s":-0.0059},{"i":229,"m":-0.0023,"s":-0.0047},{"i":230,"m":-0.0022,"s":-0.0039},{"i":231,"m":-0.0025,"s":-0.0031},{"i":232,"m":-0.0026,"s":-0.0028},{"i":233,"m":-0.0024,"s":-0.0027},{"i":234,"m":-0.0024,"s":-0.0024},{"i":235,"m":-0.0010,"s":-0.0021},{"i":236,"m":-0.0006,"s":-0.0020},{"i":237,"m":-0.0004,"s":-0.0015},{"i":238,"m":0.0001,"s":-0.0010},{"i":239,"m":0.0008,"s":-0.0004}],
"macd2":[{"i":0,"m":0.0084},{"i":1,"m":0.0089},{"i":2,"m":0.0094},{"i":3,"m":0.0099},{"i":4,"m":0.0105},{"i":5,"m":0.0108},{"i":6,"m":0.0111},{"i":7,"m":0.0114},{"i":8,"m":0.0116},{"i":9,"m":0.0121},{"i":10,"m":0.0124},{"i":11,"m":0.0126},{"i":12,"m":0.0128},{"i":13,"m":0.0130},{"i":14,"m":0.0132},{"i":15,"m":0.0134},{"i":16,"m":0.0135},{"i":17,"m":0.0138},{"i":18,"m":0.0140},{"i":19,"m":0.0142},{"i":20,"m":0.0145},{"i":21,"m":0.0147},{"i":22,"m":0.0150},{"i":23,"m":0.0151},{"i":24,"m":0.0151},{"i":25,"m":0.0151},{"i":26,"m":0.0151},{"i":27,"m":0.0151},{"i":28,"m":0.0151},{"i":29,"m":0.0147},{"i":30,"m":0.0145},{"i":31,"m":0.0142},{"i":32,"m":0.0139},{"i":33,"m":0.0133},{"i":34,"m":0.0127},{"i":35,"m":0.0127},{"i":36,"m":0.0129},{"i":37,"m":0.0133},{"i":38,"m":0.0135},{"i":39,"m":0.0140},{"i":40,"m":0.0145},{"i":41,"m":0.0150},{"i":42,"m":0.0155},{"i":43,"m":0.0159},{"i":44,"m":0.0164},{"i":45,"m":0.0169},{"i":46,"m":0.0176},{"i":47,"m":0.0184},{"i":48,"m":0.0188},{"i":49,"m":0.0193},{"i":50,"m":0.0198},{"i":51,"m":0.0201},{"i":52,"m":0.0204},{"i":53,"m":0.0208},{"i":54,"m":0.0213},{"i":55,"m":0.0217},{"i":56,"m":0.0221},{"i":57,"m":0.0222},{"i":58,"m":0.0225},{"i":59,"m":0.0227},{"i":60,"m":0.0228},{"i":61,"m":0.0230},{"i":62,"m":0.0232},{"i":63,"m":0.0234},{"i":64,"m":0.0237},{"i":65,"m":0.0239},{"i":66,"m":0.0242},{"i":67,"m":0.0243},{"i":68,"m":0.0245},{"i":69,"m":0.0248},{"i":70,"m":0.0251},{"i":71,"m":0.0254},{"i":72,"m":0.0256},{"i":73,"m":0.0261},{"i":74,"m":0.0266},{"i":75,"m":0.0269},{"i":76,"m":0.0272},{"i":77,"m":0.0275},{"i":78,"m":0.0279},{"i":79,"m":0.0282},{"i":80,"m":0.0285},{"i":81,"m":0.0287},{"i":82,"m":0.0290},{"i":83,"m":0.0291},{"i":84,"m":0.0293},{"i":85,"m":0.0303},{"i":86,"m":0.0306},{"i":87,"m":0.0309},{"i":88,"m":0.0312},{"i":89,"m":0.0315},{"i":90,"m":0.0317},{"i":91,"m":0.0319},{"i":92,"m":0.0319},{"i":93,"m":0.0320},{"i":94,"m":0.0320},{"i":95,"m":0.0320},{"i":96,"m":0.0316},{"i":97,"m":0.0309},{"i":98,"m":0.0302},{"i":99,"m":0.0295},{"i":100,"m":0.0290},{"i":101,"m":0.0285},{"i":102,"m":0.0280},{"i":103,"m":0.0275},{"i":104,"m":0.0273},{"i":105,"m":0.0270},{"i":106,"m":0.0266},{"i":107,"m":0.0261},{"i":108,"m":0.0256},{"i":109,"m":0.0254},{"i":110,"m":0.0251},{"i":111,"m":0.0246},{"i":112,"m":0.0242},{"i":113,"m":0.0237},{"i":114,"m":0.0232},{"i":115,"m":0.0226},{"i":116,"m":0.0220},{"i":117,"m":0.0215},{"i":118,"m":0.0210},{"i":119,"m":0.0206},{"i":120,"m":0.0203},{"i":121,"m":0.0200},{"i":122,"m":0.0197},{"i":123,"m":0.0193},{"i":124,"m":0.0191},{"i":125,"m":0.0188},{"i":126,"m":0.0184},{"i":127,"m":0.0179},{"i":128,"m":0.0171},{"i":129,"m":0.0164},{"i":130,"m":0.0159},{"i":131,"m":0.0152},{"i":132,"m":0.0145},{"i":133,"m":0.0138},{"i":134,"m":0.0130},{"i":135,"m":0.0127},{"i":136,"m":0.0126},{"i":137,"m":0.0124},{"i":138,"m":0.0122},{"i":139,"m":0.0121},{"i":140,"m":0.0121},{"i":141,"m":0.0123},{"i":142,"m":0.0126},{"i":143,"m":0.0128},{"i":144,"m":0.0130},{"i":145,"m":0.0132},{"i":146,"m":0.0133},{"i":147,"m":0.0135},{"i":148,"m":0.0135},{"i":149,"m":0.0136},{"i":150,"m":0.0137},{"i":151,"m":0.0138},{"i":152,"m":0.0140},{"i":153,"m":0.0140},{"i":154,"m":0.0140},{"i":155,"m":0.0140},{"i":156,"m":0.0138},{"i":157,"m":0.0135},{"i":158,"m":0.0133},{"i":159,"m":0.0130},{"i":160,"m":0.0129},{"i":161,"m":0.0128},{"i":162,"m":0.0126},{"i":163,"m":0.0126},{"i":164,"m":0.0123},{"i":165,"m":0.0122},{"i":166,"m":0.0121},{"i":167,"m":0.0117},{"i":168,"m":0.0114},{"i":169,"m":0.0110},{"i":170,"m":0.0106},{"i":171,"m":0.0103},{"i":172,"m":0.0100},{"i":173,"m":0.0097},{"i":174,"m":0.0095},{"i":175,"m":0.0093},{"i":176,"m":0.0092},{"i":177,"m":0.0092},{"i":178,"m":0.0095},{"i":179,"m":0.0097},{"i":180,"m":0.0098},{"i":181,"m":0.0099},{"i":182,"m":0.0100},{"i":183,"m":0.0100},{"i":184,"m":0.0100},{"i":185,"m":0.0100},{"i":186,"m":0.0097},{"i":187,"m":0.0094},{"i":188,"m":0.0090},{"i":189,"m":0.0087},{"i":190,"m":0.0085},{"i":191,"m":0.0082},{"i":192,"m":0.0079},{"i":193,"m":0.0075},{"i":194,"m":0.0071},{"i":195,"m":0.0068},{"i":196,"m":0.0064},{"i":197,"m":0.0061},{"i":198,"m":0.0058},{"i":199,"m":0.0056},{"i":200,"m":0.0053},{"i":201,"m":0.0050},{"i":202,"m":0.0047},{"i":203,"m":0.0043},{"i":204,"m":0.0040},{"i":205,"m":0.0037},{"i":206,"m":0.0034},{"i":207,"m":0.0030},{"i":208,"m":0.0028},{"i":209,"m":0.0024},{"i":210,"m":0.0021},{"i":211,"m":0.0016},{"i":212,"m":0.0010},{"i":213,"m":0.0003},{"i":214,"m":-0.0001},{"i":215,"m":-0.0005},{"i":216,"m":-0.0010},{"i":217,"m":-0.0014},{"i":218,"m":-0.0019},{"i":219,"m":-0.0024},{"i":220,"m":-0.0028},{"i":221,"m":-0.0032},{"i":222,"m":-0.0036},{"i":223,"m":-0.0041},{"i":224,"m":-0.0046},{"i":225,"m":-0.0050},{"i":226,"m":-0.0053},{"i":227,"m":-0.0055},{"i":228,"m":-0.0056},{"i":229,"m":-0.0057},{"i":230,"m":-0.0057},{"i":231,"m":-0.0057},{"i":232,"m":-0.0056},{"i":233,"m":-0.0053},{"i":234,"m":-0.0052},{"i":235,"m":-0.0048},{"i":236,"m":-0.0047},{"i":237,"m":-0.0045},{"i":238,"m":-0.0044},{"i":239,"m":-0.0044}],
"signal2":[{"i":0,"s":0.0076},{"i":4,"s":0.0093},{"i":8,"s":0.0108},{"i":10,"s":0.0121},{"i":16,"s":0.0132},{"i":23,"s":0.0145},{"i":28,"s":0.0148},{"i":32,"s":0.0140},{"i":34,"s":0.0130},{"i":36,"s":0.0130},{"i":40,"s":0.0140},{"i":44,"s":0.0156},{"i":48,"s":0.0180},{"i":52,"s":0.0200},{"i":56,"s":0.0213},{"i":60,"s":0.0224},{"i":64,"s":0.0232},{"i":68,"s":0.0240},{"i":72,"s":0.0248},{"i":76,"s":0.0264},{"i":80,"s":0.0277},{"i":84,"s":0.0288},{"i":90,"s":0.0314},{"i":95,"s":0.0319},{"i":100,"s":0.0293},{"i":105,"s":0.0274},{"i":110,"s":0.0253},{"i":115,"s":0.0226},{"i":120,"s":0.0203},{"i":125,"s":0.0193},{"i":130,"s":0.0169},{"i":135,"s":0.0137},{"i":140,"s":0.0127},{"i":145,"s":0.0130},{"i":150,"s":0.0136},{"i":155,"s":0.0137},{"i":160,"s":0.0132},{"i":165,"s":0.0124},{"i":171,"s":0.0110},{"i":176,"s":0.0097},{"i":180,"s":0.0093},{"i":185,"s":0.0098},{"i":190,"s":0.0092},{"i":195,"s":0.0076},{"i":200,"s":0.0057},{"i":205,"s":0.0042},{"i":210,"s":0.0024},{"i":215,"s":0.0003},{"i":220,"s":-0.0019},{"i":225,"s":-0.0045},{"i":230,"s":-0.0053},{"i":235,"s":-0.0053},{"i":239,"s":-0.0043}]
},
"vconcat":[
{"width":973,"height":528,"layer":[
{"data":{"name":"pattern"},"mark":{"type":"line","stroke":"#0000FF","strokeWidth":5,"strokeCap":"round","clip":true},"encoding":{"x":{"field":"i","type":"quantitative","axis":null,"scale":{"domain":[-0.125,243.125],"nice":false,"zero":false,"padding":0}},"y":{"field":"p","type":"quantitative","scale":{"domain":[1.317,1.383],"nice":false,"zero":false},"axis":{"orient":"right","values":[1.3175,1.3215,1.3255,1.3295,1.3335,1.3375,1.3415,1.3455,1.3495,1.3535,1.3575,1.3615,1.3655,1.3695,1.3735,1.3775,1.3815],"format":".4f","tickSize":4,"labelPadding":8}},"detail":{"field":"leg"}}},
{"data":{"name":"candles"},"mark":{"type":"rule","stroke":"#000000","strokeWidth":1,"clip":true},"encoding":{"x":{"field":"i","type":"quantitative"},"y":{"field":"l","type":"quantitative"},"y2":{"field":"h"}}},
{"data":{"name":"candles"},"mark":{"type":"bar","orient":"vertical","size":2,"stroke":"#000000","strokeWidth":1,"clip":true},"encoding":{"x":{"field":"i","type":"quantitative"},"y":{"field":"o","type":"quantitative"},"y2":{"field":"c"},"fill":{"condition":{"test":"datum.c>=datum.o","value":"#FFFFFF"},"value":"#000000"}}},
{"data":{"name":"maRed"},"mark":{"type":"line","stroke":"#FF0000","strokeWidth":1,"strokeDash":[7,1],"clip":true},"encoding":{"x":{"field":"i","type":"quantitative"},"y":{"field":"p","type":"quantitative"}}},
{"data":{"name":"maBlue"},"mark":{"type":"line","stroke":"#191970","strokeWidth":1,"clip":true},"encoding":{"x":{"field":"i","type":"quantitative"},"y":{"field":"p","type":"quantitative"}}},
{"data":{"name":"points"},"mark":{"type":"text","color":"#0000FF","fontSize":18,"baseline":"middle"},"encoding":{"x":{"field":"i","type":"quantitative"},"y":{"field":"p","type":"quantitative"},"text":{"field":"t"}}},
{"data":{"name":"mainText"},"mark":{"type":"text","color":"#FFFFFF","align":"left","baseline":"middle"},"encoding":{"x":{"field":"i","type":"quantitative"},"y":{"field":"p","type":"quantitative"},"text":{"field":"t"},"size":{"field":"s","type":"quantitative","scale":null}}},
{"data":{"values":[{"i":1.75,"p":1.3779,"t":"-I+T+ABCD Bullish"}]},"mark":{"type":"text","color":"#32CD32","fontSize":12,"align":"left","baseline":"middle"},"encoding":{"x":{"field":"i","type":"quantitative"},"y":{"field":"p","type":"quantitative"},"text":{"field":"t"}}},
{"data":{"values":[{"i":240.25,"p":1.3198,"p2":1.3178}]},"mark":{"type":"rule","stroke":"#FFFFFF","strokeWidth":1},"encoding":{"x":{"field":"i","type":"quantitative"},"y":{"field":"p","type":"quantitative"},"y2":{"field":"p2"}}},
{"data":{"values":[{"i":240.25,"p":1.3198}]},"mark":{"type":"point","filled":true,"fill":"#FFFFFF","opacity":1,"size":110},"encoding":{"x":{"field":"i","type":"quantitative"},"y":{"field":"p","type":"quantitative"}}},
{"data":{"values":[{"i":242.5,"p":1.3184,"t":"A"},{"i":243,"p":1.3205,"t":"✳"}]},"mark":{"type":"text","color":"#FFFFFF","fontSize":13,"baseline":"middle"},"encoding":{"x":{"field":"i","type":"quantitative"},"y":{"field":"p","type":"quantitative"},"text":{"field":"t"}}},
{"data":{"values":[{"i":246,"i2":254.5,"p":1.351,"p2":1.3496}]},"mark":{"type":"bar","orient":"vertical","fill":"#FFFFFF"},"encoding":{"x":{"field":"i","type":"quantitative"},"x2":{"field":"i2"},"y":{"field":"p","type":"quantitative"},"y2":{"field":"p2"}}},
{"data":{"values":[{"i":250.25,"p":1.3503,"t":"1.3502"}]},"mark":{"type":"text","color":"#000000","fontSize":10,"baseline":"middle"},"encoding":{"x":{"field":"i","type":"quantitative"},"y":{"field":"p","type":"quantitative"},"text":{"field":"t"}}}
]},
{"width":973,"height":126,"layer":[
{"data":{"values":[{"i":0.75,"p":0.0122,"t":"MACD(5,34,5) 0.00078 -0.00015\u00a0 ->MA(1) 0.00078\u00a0 ->MA(5) -0.00015"}]},"mark":{"type":"text","color":"#FFFFFF","fontSize":10,"align":"left","baseline":"middle"},"encoding":{"x":{"field":"i","type":"quantitative","axis":null,"scale":{"domain":[-0.125,243.125],"nice":false,"zero":false,"padding":0}},"y":{"field":"p","type":"quantitative","scale":{"domain":[-0.01081,0.01401],"nice":false,"zero":false},"axis":{"orient":"right","values":[0.01401,0,-0.01081],"labelExpr":"datum.value==0?'0.00':format(datum.value,'.5f')","labelFlush":true,"labelFontSize":9,"tickSize":4,"labelPadding":7}},"text":{"field":"t"}}},
{"data":{"name":"macd1"},"mark":{"type":"bar","size":3,"fill":"#D8BFD8","clip":true},"encoding":{"x":{"field":"i","type":"quantitative"},"y":{"field":"m","type":"quantitative","stack":null}}},
{"data":{"name":"macd1"},"mark":{"type":"line","stroke":"#FF0000","strokeWidth":2,"clip":true},"encoding":{"x":{"field":"i","type":"quantitative"},"y":{"field":"m","type":"quantitative"}}},
{"data":{"name":"macd1"},"mark":{"type":"line","stroke":"#000080","strokeWidth":2,"clip":true},"encoding":{"x":{"field":"i","type":"quantitative"},"y":{"field":"s","type":"quantitative"}}}
]},
{"width":973,"height":87,"layer":[
{"data":{"values":[{"i":0.75,"p":0.0299,"t":"MACD(25,170,25) -0.00442 -0.00434\u00a0 ->MA(1) -0.00442\u00a0 ->MA(5) -0.00484"},{"i":0.75,"p":-0.0043,"t":"Broco Trader, © 2001-2011 MetaQuotes Software Corp."}]},"mark":{"type":"text","color":"#FFFFFF","fontSize":10,"align":"left","baseline":"middle"},"encoding":{"x":{"field":"i","type":"quantitative","scale":{"domain":[-0.125,243.125],"nice":false,"zero":false,"padding":0},"axis":{"orient":"bottom","values":[0,16,32,48,64,80,96,112,128,144,160,176,192,208,224],"labelExpr":"['14 Feb 2011','16 Feb 20:00','21 Feb 12:00','24 Feb 04:00','28 Feb 20:00','3 Mar 12:00','8 Mar 04:00','10 Mar 20:00','15 Mar 12:00','18 Mar 04:00','22 Mar 20:00','25 Mar 12:00','30 Mar 04:00','1 Apr 20:00','6 Apr 12:00'][datum.value/16]","labelAlign":"left","labelAngle":0,"labelFlush":false,"labelFontSize":9.5,"tickSize":3,"labelPadding":1}},"y":{"field":"p","type":"quantitative","scale":{"domain":[-0.00769,0.03427],"nice":false,"zero":false},"axis":{"orient":"right","values":[0.03427,0,-0.00769],"labelExpr":"datum.value==0?'0.00':format(datum.value,'.5f')","labelFlush":true,"labelFontSize":9,"tickSize":4,"labelPadding":7}},"text":{"field":"t"}}},
{"data":{"name":"macd2"},"mark":{"type":"bar","size":3,"fill":"#D8BFD8","clip":true},"encoding":{"x":{"field":"i","type":"quantitative"},"y":{"field":"m","type":"quantitative","stack":null}}},
{"data":{"name":"macd2"},"mark":{"type":"line","stroke":"#FF0000","strokeWidth":2,"clip":true},"encoding":{"x":{"field":"i","type":"quantitative"},"y":{"field":"m","type":"quantitative"}}},
{"data":{"name":"signal2"},"mark":{"type":"line","stroke":"#000080","strokeWidth":2,"clip":true},"encoding":{"x":{"field":"i","type":"quantitative"},"y":{"field":"s","type":"quantitative"}}}
]}
]}
